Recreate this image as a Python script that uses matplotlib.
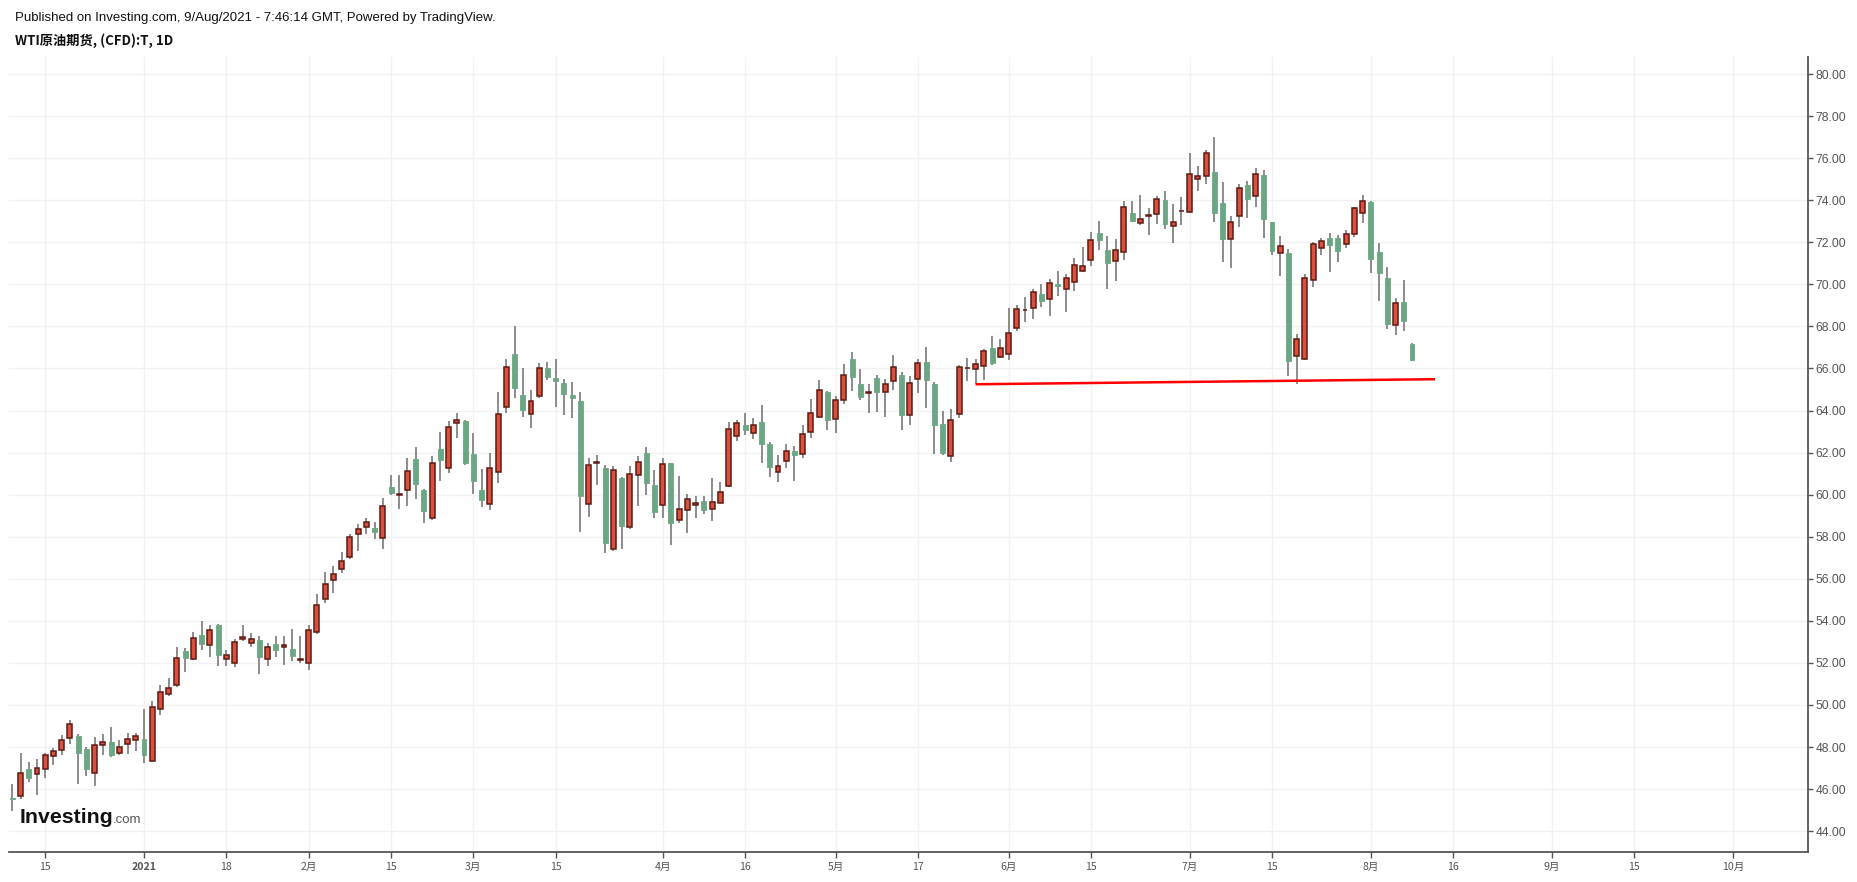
import matplotlib
matplotlib.use("Agg")
import matplotlib.pyplot as plt
import numpy as np

# ---- data (daily bars, index 0 = 2020-12-09 ... index 170 = 2021-08-09) ----
opens = [45.60, 45.65, 46.95, 46.71, 46.98, 47.57, 47.86, 48.43, 48.52, 47.92,
         46.76, 48.09, 48.25, 47.71, 48.14, 48.33, 48.40, 47.36, 49.81, 50.52,
         50.94, 52.59, 52.17, 53.35, 52.86, 53.82, 52.19, 52.00, 53.14, 52.95,
         53.11, 52.19, 52.92, 52.76, 52.68, 52.14, 51.98, 53.47, 55.05, 55.95,
         56.46, 57.03, 58.13, 58.46, 58.41, 57.92, 60.37, 59.97, 60.21, 61.71,
         60.22, 58.89, 62.19, 61.27, 63.40, 63.48, 61.95, 60.24, 59.56, 61.08,
         64.17, 66.71, 64.76, 63.84, 64.70, 66.00, 65.57, 65.33, 64.76, 64.43,
         59.56, 61.52, 61.29, 57.41, 60.81, 58.44, 60.94, 61.98, 60.48, 59.51,
         61.52, 58.79, 59.27, 59.51, 59.71, 59.33, 59.62, 60.41, 62.81, 63.29,
         62.94, 63.44, 62.40, 61.10, 61.62, 62.06, 61.95, 63.00, 63.67, 64.87,
         63.62, 64.52, 66.43, 65.25, 64.84, 65.57, 64.86, 65.41, 65.71, 63.81,
         65.48, 66.33, 65.25, 63.38, 61.86, 63.84, 66.00, 65.98, 66.13, 66.97,
         66.56, 66.67, 67.94, 68.76, 68.89, 69.54, 69.29, 70.00, 69.76, 70.10,
         70.62, 71.14, 72.44, 71.63, 71.10, 71.52, 73.40, 72.90, 73.27, 73.33,
         74.02, 72.76, 73.47, 73.46, 75.00, 75.13, 75.35, 73.87, 72.14, 73.24,
         74.71, 74.19, 75.19, 72.95, 71.48, 71.48, 66.57, 66.43, 70.19, 71.71,
         72.19, 72.19, 71.90, 72.38, 73.38, 73.90, 71.54, 70.29, 68.05, 69.16,
         67.16]
highs = [46.25, 47.74, 47.30, 47.43, 47.74, 47.95, 48.59, 49.30, 48.63, 47.98,
         48.47, 48.63, 48.97, 48.35, 48.68, 48.68, 49.83, 50.19, 50.95, 51.30,
         52.76, 52.73, 53.49, 53.97, 53.78, 53.87, 52.63, 53.14, 53.81, 53.44,
         53.27, 52.97, 53.26, 53.29, 53.59, 53.26, 53.78, 55.30, 56.33, 56.59,
         57.29, 58.14, 58.62, 58.89, 58.70, 59.84, 60.95, 60.95, 61.76, 62.29,
         60.29, 61.86, 63.00, 63.52, 63.86, 63.57, 62.95, 61.24, 61.98, 64.90,
         66.43, 68.02, 66.02, 65.00, 66.24, 66.30, 66.43, 65.48, 65.38, 64.86,
         61.76, 61.90, 61.40, 61.38, 60.86, 61.38, 61.83, 62.29, 61.19, 61.76,
         61.52, 60.90, 60.05, 59.94, 59.92, 60.78, 60.59, 63.44, 63.57, 63.87,
         63.63, 64.25, 62.52, 61.87, 62.40, 62.30, 63.30, 64.54, 65.44, 64.92,
         64.67, 66.21, 66.76, 65.97, 65.25, 65.71, 65.49, 66.63, 65.83, 65.63,
         66.44, 67.02, 65.35, 63.97, 64.05, 66.16, 66.49, 66.44, 66.94, 67.54,
         67.40, 68.87, 69.02, 69.40, 69.78, 70.02, 70.24, 70.62, 70.51, 71.25,
         71.78, 72.48, 73.02, 72.30, 72.16, 73.97, 73.97, 74.25, 73.63, 74.21,
         74.44, 73.83, 74.16, 76.25, 75.63, 76.40, 77.02, 74.87, 73.25, 74.78,
         74.92, 75.54, 75.43, 72.95, 72.30, 71.67, 67.62, 70.48, 72.00, 72.21,
         72.44, 72.35, 72.57, 73.70, 74.25, 73.97, 71.98, 70.83, 69.37, 70.21,
         67.21]
lows = [44.98, 45.55, 46.36, 45.70, 46.55, 47.17, 47.62, 48.13, 46.24, 46.60,
        46.17, 47.60, 47.51, 47.63, 47.65, 47.79, 47.22, 47.28, 49.52, 50.41,
        50.84, 51.56, 52.13, 52.60, 52.27, 51.84, 51.84, 51.79, 53.06, 52.78,
        51.46, 51.84, 52.30, 51.89, 52.08, 52.00, 51.65, 53.36, 54.84, 55.33,
        56.28, 56.95, 57.30, 58.11, 57.87, 57.44, 60.00, 59.33, 59.44, 59.81,
        58.63, 58.80, 60.67, 61.02, 62.68, 61.40, 60.02, 59.40, 59.25, 60.54,
        63.87, 64.59, 63.70, 63.16, 64.59, 65.46, 64.16, 63.81, 63.63, 58.21,
        58.95, 60.44, 57.25, 57.30, 57.44, 58.35, 59.44, 59.97, 58.87, 58.87,
        57.63, 58.63, 58.16, 58.87, 59.08, 58.75, 59.59, 60.38, 62.56, 62.84,
        62.65, 61.51, 60.84, 60.60, 61.27, 60.65, 61.73, 62.70, 63.63, 63.08,
        62.94, 64.32, 64.94, 64.51, 63.89, 63.94, 63.70, 64.97, 63.08, 63.32,
        64.84, 64.13, 61.94, 61.89, 61.56, 63.65, 65.41, 65.24, 65.44, 66.16,
        66.48, 66.41, 67.79, 68.22, 68.35, 68.92, 68.51, 69.46, 68.70, 69.68,
        70.58, 70.86, 71.65, 69.79, 70.17, 71.17, 72.98, 72.84, 72.37, 72.89,
        72.65, 71.98, 72.84, 73.41, 74.46, 74.78, 72.97, 71.08, 70.79, 72.75,
        73.17, 73.70, 72.22, 71.40, 70.41, 65.65, 65.24, 66.40, 69.89, 71.41,
        70.60, 71.08, 71.75, 72.27, 72.94, 70.56, 69.22, 67.89, 67.60, 67.79,
        66.37]
closes = [45.55, 46.76, 46.55, 47.00, 47.60, 47.81, 48.33, 49.09, 47.71, 46.98,
          48.09, 48.24, 47.60, 48.00, 48.38, 48.52, 47.60, 49.90, 50.62, 50.81,
          52.24, 52.22, 53.19, 52.89, 53.57, 52.36, 52.38, 53.00, 53.24, 53.16,
          52.27, 52.76, 52.60, 52.86, 52.32, 52.19, 53.57, 54.76, 55.73, 56.24,
          56.84, 57.98, 58.37, 58.70, 58.21, 59.44, 60.06, 60.05, 61.13, 60.49,
          59.21, 61.51, 61.63, 63.22, 63.56, 61.49, 60.63, 59.73, 61.27, 63.84,
          66.08, 65.06, 64.02, 64.46, 66.03, 65.59, 65.40, 64.78, 64.59, 59.95,
          61.41, 61.56, 57.71, 61.17, 58.52, 60.98, 61.56, 60.54, 59.16, 61.46,
          58.63, 59.32, 59.79, 59.60, 59.27, 59.67, 60.14, 63.14, 63.43, 63.08,
          63.33, 62.41, 61.32, 61.38, 62.10, 61.87, 62.90, 63.86, 65.00, 63.56,
          64.48, 65.67, 65.60, 64.65, 64.87, 64.89, 65.24, 66.05, 63.79, 65.33,
          66.24, 65.46, 63.32, 61.98, 63.57, 66.05, 66.04, 66.19, 66.81, 66.27,
          66.95, 67.71, 68.81, 68.80, 69.62, 69.22, 70.05, 69.94, 70.29, 70.90,
          70.87, 72.10, 72.13, 71.03, 71.62, 73.67, 73.03, 73.10, 73.30, 74.05,
          72.89, 72.95, 73.50, 75.24, 75.14, 76.24, 73.37, 72.17, 72.95, 74.57,
          74.08, 75.24, 73.13, 71.60, 71.81, 66.37, 67.38, 70.29, 71.90, 72.05,
          71.89, 71.60, 72.38, 73.62, 73.95, 71.22, 70.56, 68.13, 69.10, 68.27,
          66.41]

# x-axis labels and the bar index at which each sits
tick_labels = ["15", "2021", "18", "2月", "15", "3月", "15", "4月", "16", "5月",
               "17", "6月", "15", "7月", "15", "8月", "16", "9月", "15", "10月"]
tick_index = [4, 16, 26, 36, 46, 56, 66, 79, 89, 100,
              110, 121, 131, 143, 153, 165, 175, 187, 197, 209]

y_ticks = [44, 46, 48, 50, 52, 54, 56, 58, 60, 62, 64, 66, 68, 70, 72, 74, 76, 78, 80]

# support trend line (bar index, price)
trend_x = [117, 172.8]
trend_y = [65.25, 65.49]

# ---- styling ----
UP_FILL = "#D9503F"
UP_EDGE = "#5E1A12"
DOWN_FILL = "#6BA785"
WICK = "#6E6E6E"
GRID = "#F2F2F2"
AXC = "#555555"

W, H = 1857, 882
fig = plt.figure(figsize=(W / 100, H / 100), dpi=100)
fig.patch.set_facecolor("white")
L, R, T, B = 9, 1808, 57, 852
ax = fig.add_axes([L / W, (H - B) / H, (R - L) / W, (B - T) / H])

o = np.array(opens); h = np.array(highs); lo = np.array(lows); c = np.array(closes)
x = np.arange(len(o))
up = c >= o

ax.vlines(x, lo, h, color=WICK, linewidth=1.1, zorder=2)
body_lo = np.minimum(o, c)
body_h = np.maximum(np.abs(c - o), 0.02)
ax.bar(x[up], body_h[up], bottom=body_lo[up], width=0.6, color=UP_FILL,
       edgecolor=UP_EDGE, linewidth=1.1, zorder=3)
ax.bar(x[~up], body_h[~up], bottom=body_lo[~up], width=0.6, color=DOWN_FILL,
       edgecolor=DOWN_FILL, linewidth=0.6, zorder=3)

ax.plot(trend_x, trend_y, color="#FF0000", linewidth=1.8, zorder=4,
        solid_capstyle="butt")

ax.set_xlim(-0.4, 218.1)
ax.set_ylim(43.01, 80.81)

ax.set_yticks(y_ticks)
ax.set_yticklabels([f"{v:.2f}" for v in y_ticks], fontfamily="Liberation Sans",
                   fontsize=8.7, color="#555555")
ax.yaxis.tick_right()
ax.set_xticks(tick_index)
ax.set_xticklabels(tick_labels, fontfamily=["Noto Sans CJK SC", "DejaVu Sans"],
                   fontsize=7.6, color="#555555")
for lab in ax.get_xticklabels():
    if lab.get_text() == "2021":
        lab.set_fontweight("bold")

ax.tick_params(axis="y", which="both", direction="out", length=3.3, width=1,
               color=AXC, pad=2, right=True, left=False)
ax.tick_params(axis="x", which="both", direction="out", length=4.5, width=1,
               color=AXC, pad=3)

ax.grid(True, color=GRID, linewidth=1, zorder=0)
ax.set_axisbelow(True)
for s in ["left", "top"]:
    ax.spines[s].set_visible(False)
for s in ["right", "bottom"]:
    ax.spines[s].set_color(AXC)
    ax.spines[s].set_linewidth(1.3)

# header texts
fig.text(15 / W, 1 - 21 / H,
         "Published on Investing.com, 9/Aug/2021 - 7:46:14 GMT, Powered by TradingView.",
         fontfamily="Liberation Sans", fontsize=9.5, color="#111111", va="baseline")
fig.text(15 / W, 1 - 45 / H, "WTI原油期货, (CFD):T, 1D",
         fontfamily=["Noto Sans CJK SC", "DejaVu Sans"], fontsize=9.5,
         fontweight="bold", color="#111111", va="baseline")

# logo
fig.text(20 / W, 1 - 823 / H, "Investing", fontfamily="Liberation Sans",
         fontsize=15.3, fontweight="bold", color="#111111", va="baseline")
fig.text(113 / W, 1 - 823 / H, ".com", fontfamily="Liberation Sans",
         fontsize=9.5, color="#555555", va="baseline")

fig.savefig("out.png", dpi=100, facecolor="white")
